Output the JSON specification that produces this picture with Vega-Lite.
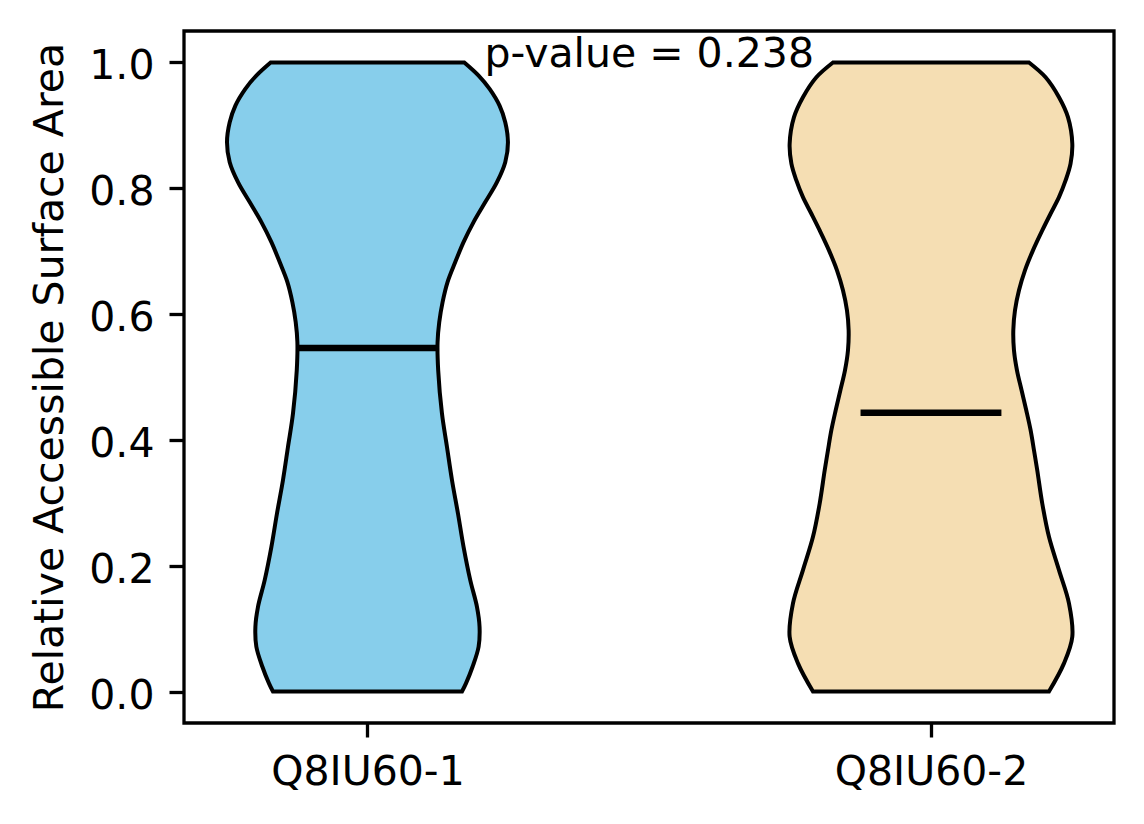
{
  "$schema": "https://vega.github.io/schema/vega-lite/v6.json",
  "description": "Violin plot of relative accessible surface area for two isoforms.",
  "autosize": {"type": "none"},
  "padding": {"left": 184, "top": 31, "right": 30, "bottom": 101},
  "width": 930,
  "height": 692,
  "background": "white",
  "datasets": {
    "violins": [
      {"group": "Q8IU60-1", "y": 0.0, "lo": 0.8323, "hi": 1.1677},
      {"group": "Q8IU60-1", "y": 0.013, "lo": 0.8252, "hi": 1.1748},
      {"group": "Q8IU60-1", "y": 0.0394, "lo": 0.8135, "hi": 1.1865},
      {"group": "Q8IU60-1", "y": 0.0712, "lo": 0.8028, "hi": 1.1972},
      {"group": "Q8IU60-1", "y": 0.1029, "lo": 0.8011, "hi": 1.1989},
      {"group": "Q8IU60-1", "y": 0.1347, "lo": 0.8057, "hi": 1.1943},
      {"group": "Q8IU60-1", "y": 0.1771, "lo": 0.8176, "hi": 1.1824},
      {"group": "Q8IU60-1", "y": 0.23, "lo": 0.8295, "hi": 1.1705},
      {"group": "Q8IU60-1", "y": 0.283, "lo": 0.8394, "hi": 1.1606},
      {"group": "Q8IU60-1", "y": 0.3359, "lo": 0.85, "hi": 1.15},
      {"group": "Q8IU60-1", "y": 0.3888, "lo": 0.8589, "hi": 1.1411},
      {"group": "Q8IU60-1", "y": 0.4419, "lo": 0.8678, "hi": 1.1322},
      {"group": "Q8IU60-1", "y": 0.5106, "lo": 0.8745, "hi": 1.1255},
      {"group": "Q8IU60-1", "y": 0.5556, "lo": 0.8756, "hi": 1.1244},
      {"group": "Q8IU60-1", "y": 0.5874, "lo": 0.8726, "hi": 1.1274},
      {"group": "Q8IU60-1", "y": 0.6191, "lo": 0.8667, "hi": 1.1333},
      {"group": "Q8IU60-1", "y": 0.6509, "lo": 0.8579, "hi": 1.1421},
      {"group": "Q8IU60-1", "y": 0.6827, "lo": 0.8442, "hi": 1.1558},
      {"group": "Q8IU60-1", "y": 0.7144, "lo": 0.8295, "hi": 1.1705},
      {"group": "Q8IU60-1", "y": 0.7462, "lo": 0.8117, "hi": 1.1883},
      {"group": "Q8IU60-1", "y": 0.778, "lo": 0.7909, "hi": 1.2091},
      {"group": "Q8IU60-1", "y": 0.8097, "lo": 0.7702, "hi": 1.2298},
      {"group": "Q8IU60-1", "y": 0.8415, "lo": 0.7555, "hi": 1.2445},
      {"group": "Q8IU60-1", "y": 0.8733, "lo": 0.7507, "hi": 1.2493},
      {"group": "Q8IU60-1", "y": 0.905, "lo": 0.7555, "hi": 1.2445},
      {"group": "Q8IU60-1", "y": 0.9315, "lo": 0.7656, "hi": 1.2344},
      {"group": "Q8IU60-1", "y": 0.9581, "lo": 0.7833, "hi": 1.2167},
      {"group": "Q8IU60-1", "y": 0.9792, "lo": 0.8028, "hi": 1.1972},
      {"group": "Q8IU60-1", "y": 1.0, "lo": 0.8282, "hi": 1.1718},
      {"group": "Q8IU60-2", "y": 0.0, "lo": 1.7906, "hi": 2.2094},
      {"group": "Q8IU60-2", "y": 0.0448, "lo": 1.764, "hi": 2.236},
      {"group": "Q8IU60-2", "y": 0.087, "lo": 1.7492, "hi": 2.2508},
      {"group": "Q8IU60-2", "y": 0.1401, "lo": 1.7551, "hi": 2.2449},
      {"group": "Q8IU60-2", "y": 0.193, "lo": 1.7728, "hi": 2.2272},
      {"group": "Q8IU60-2", "y": 0.2459, "lo": 1.7906, "hi": 2.2094},
      {"group": "Q8IU60-2", "y": 0.2989, "lo": 1.8025, "hi": 2.1975},
      {"group": "Q8IU60-2", "y": 0.3518, "lo": 1.8114, "hi": 2.1886},
      {"group": "Q8IU60-2", "y": 0.3836, "lo": 1.8172, "hi": 2.1828},
      {"group": "Q8IU60-2", "y": 0.4154, "lo": 1.8232, "hi": 2.1768},
      {"group": "Q8IU60-2", "y": 0.4471, "lo": 1.8309, "hi": 2.1691},
      {"group": "Q8IU60-2", "y": 0.4789, "lo": 1.8392, "hi": 2.1608},
      {"group": "Q8IU60-2", "y": 0.5106, "lo": 1.8474, "hi": 2.1526},
      {"group": "Q8IU60-2", "y": 0.5424, "lo": 1.8527, "hi": 2.1473},
      {"group": "Q8IU60-2", "y": 0.5743, "lo": 1.8539, "hi": 2.1461},
      {"group": "Q8IU60-2", "y": 0.6061, "lo": 1.8509, "hi": 2.1491},
      {"group": "Q8IU60-2", "y": 0.6378, "lo": 1.8438, "hi": 2.1562},
      {"group": "Q8IU60-2", "y": 0.6696, "lo": 1.8332, "hi": 2.1668},
      {"group": "Q8IU60-2", "y": 0.7013, "lo": 1.819, "hi": 2.181},
      {"group": "Q8IU60-2", "y": 0.733, "lo": 1.8025, "hi": 2.1975},
      {"group": "Q8IU60-2", "y": 0.7595, "lo": 1.7878, "hi": 2.2122},
      {"group": "Q8IU60-2", "y": 0.7859, "lo": 1.7728, "hi": 2.2272},
      {"group": "Q8IU60-2", "y": 0.8124, "lo": 1.7611, "hi": 2.2389},
      {"group": "Q8IU60-2", "y": 0.839, "lo": 1.7523, "hi": 2.2477},
      {"group": "Q8IU60-2", "y": 0.8707, "lo": 1.7492, "hi": 2.2508},
      {"group": "Q8IU60-2", "y": 0.913, "lo": 1.7569, "hi": 2.2431},
      {"group": "Q8IU60-2", "y": 0.9447, "lo": 1.7728, "hi": 2.2272},
      {"group": "Q8IU60-2", "y": 0.9765, "lo": 1.7966, "hi": 2.2034},
      {"group": "Q8IU60-2", "y": 1.0, "lo": 1.8261, "hi": 2.1739}
    ],
    "medians": [
      {"group": "Q8IU60-1", "median": 0.546, "lo": 0.875, "hi": 1.125},
      {"group": "Q8IU60-2", "median": 0.443, "lo": 1.875, "hi": 2.125}
    ],
    "notes": [
      {"x": 1.5, "y": 1.0, "label": "p-value = 0.238"}
    ]
  },
  "layer": [
    {
      "data": {"name": "violins"},
      "mark": {
        "type": "area",
        "orient": "horizontal",
        "interpolate": "catmull-rom",
        "stroke": "black",
        "strokeWidth": 4,
        "strokeJoin": "miter",
        "fillOpacity": 1
      },
      "encoding": {
        "y": {
          "field": "y", "type": "quantitative",
          "scale": {"domain": [-0.05, 1.05], "nice": false, "zero": false},
          "axis": {
            "values": [0, 0.2, 0.4, 0.6, 0.8, 1.0],
            "format": ".1f",
            "title": "Relative Accessible Surface Area",
            "labelBaseline": "middle",
            "labelOffset": 4.5,
            "labelPadding": 15,
            "titlePadding": 17
          }
        },
        "x": {
          "field": "lo", "type": "quantitative",
          "scale": {"domain": [0.6744, 2.3248], "nice": false, "zero": false},
          "axis": {
            "values": [1, 2],
            "labelExpr": "datum.value == 1 ? 'Q8IU60-1' : 'Q8IU60-2'",
            "labelLimit": 0,
            "title": null,
            "tickSize": 14,
            "labelPadding": 15
          }
        },
        "x2": {"field": "hi"},
        "color": {
          "field": "group", "type": "nominal",
          "scale": {"domain": ["Q8IU60-1", "Q8IU60-2"], "range": ["#87CEEB", "#F5DEB3"]},
          "legend": null
        }
      }
    },
    {
      "data": {"name": "medians"},
      "mark": {"type": "rule", "color": "black", "strokeWidth": 6.5},
      "encoding": {
        "y": {"field": "median", "type": "quantitative"},
        "x": {"field": "lo", "type": "quantitative"},
        "x2": {"field": "hi"}
      }
    },
    {
      "data": {"name": "notes"},
      "mark": {"type": "text", "fontSize": 41, "align": "center", "baseline": "alphabetic", "dy": 5, "color": "black"},
      "encoding": {
        "x": {"field": "x", "type": "quantitative"},
        "y": {"field": "y", "type": "quantitative"},
        "text": {"field": "label"}
      }
    }
  ],
  "config": {
    "font": "DejaVu Sans",
    "view": {"stroke": "black", "strokeWidth": 3.3},
    "axis": {
      "grid": false,
      "domain": false,
      "ticks": true,
      "tickColor": "black",
      "tickWidth": 3.3,
      "tickSize": 15,
      "labelFontSize": 41,
      "labelColor": "black",
      "titleFontSize": 41,
      "titleFontWeight": "normal",
      "titleColor": "black"
    }
  }
}
